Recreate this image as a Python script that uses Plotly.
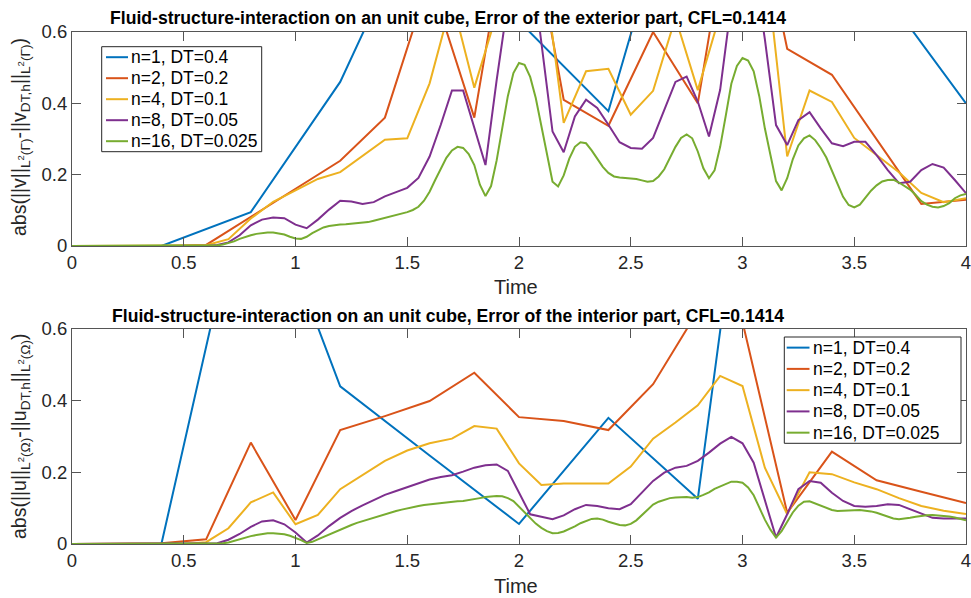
import numpy as np
import plotly.graph_objects as go

# ---------------- data ----------------
labels = ["n=1, DT=0.4", "n=2, DT=0.2", "n=4, DT=0.1", "n=8, DT=0.05", "n=16, DT=0.025"]
dts = [0.4, 0.2, 0.1, 0.05, 0.025]
colors = ["#0072BD", "#D95319", "#EDB120", "#7E2F8E", "#77AC30"]

# exterior part (top)
ext_n1 = [0, 0, 0.095, 0.46, 1.0, 0.63, 0.378, 1.24, 1.3, 0.74, 0.40]
ext_n2 = [0, 0, 0, 0.003, 0.082, 0.162, 0.239, 0.360, 0.75, 0.36, 1.1, 0.41, 0.337,
          0.60, 0.40, 1.15, 0.553, 0.48, 0.299, 0.118, 0.13]
ext_n4 = [0, 0, 0, 0, 0, 0, 0.002, 0.019, 0.077, 0.124, 0.157, 0.188, 0.207, 0.252,
          0.298, 0.302, 0.456, 0.69, 0.444, 0.65, 1.0, 0.83, 0.345, 0.49, 0.497, 0.368,
          0.435, 0.64, 0.437, 0.65, 1.0, 0.82, 0.251, 0.436, 0.404, 0.303, 0.256, 0.207,
          0.149, 0.123, 0.134]
ext_n8 = [0, 0, 0, 0, 0, 0, 0, 0, 0, 0, 0, 0, 0,
          0.003, 0.010, 0.030, 0.058, 0.074, 0.080, 0.078, 0.060, 0.050, 0.074,
          0.102, 0.127, 0.125, 0.118, 0.123, 0.139, 0.151, 0.163, 0.191, 0.251,
          0.340, 0.436, 0.436, 0.331, 0.227, 0.465, 0.69, 0.90, 0.82, 0.57,
          0.321, 0.263, 0.363, 0.410, 0.387, 0.340, 0.291, 0.275, 0.273, 0.303,
          0.382, 0.460, 0.475, 0.405, 0.307, 0.438, 0.68, 0.90, 0.79, 0.58,
          0.339, 0.283, 0.353, 0.375, 0.330, 0.288, 0.280, 0.292, 0.292, 0.255,
          0.213, 0.176, 0.180, 0.213, 0.230, 0.220, 0.185, 0.148]
ext_n16 = [0] * 25 + [
    0.001, 0.002, 0.004, 0.008, 0.013, 0.020, 0.026, 0.030, 0.034, 0.037,
    0.038, 0.038, 0.036, 0.032, 0.026, 0.021, 0.020, 0.026, 0.036, 0.045,
    0.052, 0.056, 0.059, 0.060, 0.061, 0.062, 0.063, 0.064, 0.067, 0.071,
    0.075, 0.078, 0.082, 0.086, 0.090, 0.095, 0.101, 0.110, 0.127, 0.152,
    0.185, 0.218, 0.247, 0.268, 0.278, 0.275, 0.258, 0.227, 0.172, 0.140,
    0.168, 0.240, 0.330, 0.420, 0.485, 0.513, 0.508, 0.474, 0.415, 0.333,
    0.252, 0.180, 0.167, 0.198, 0.245, 0.278, 0.291, 0.288, 0.268, 0.245,
    0.222, 0.205, 0.195, 0.192, 0.191, 0.190, 0.188, 0.184, 0.180, 0.182,
    0.195, 0.215, 0.247, 0.278, 0.303, 0.313, 0.302, 0.265, 0.218, 0.190,
    0.212, 0.278, 0.365, 0.455, 0.505, 0.527, 0.520, 0.490, 0.420, 0.330,
    0.255, 0.182, 0.156, 0.190, 0.243, 0.282, 0.302, 0.310, 0.297, 0.275,
    0.248, 0.210, 0.172, 0.138, 0.115, 0.108, 0.116, 0.135, 0.155, 0.170,
    0.181, 0.185, 0.186, 0.178, 0.168, 0.158, 0.143, 0.126, 0.116, 0.110,
    0.108, 0.112, 0.120, 0.134, 0.142, 0.146]

# interior part (bottom)
int_n1 = [0, 0, 1.1, 0.44, 0.247, 0.056, 0.352, 0.126, 2.0, 1.5, 1.0]
int_n2 = [0, 0, 0.002, 0.013, 0.283, 0.067, 0.318, 0.357, 0.399, 0.478, 0.354,
          0.343, 0.318, 0.446, 0.65, 0.62, 0.087, 0.258, 0.178, 0.146, 0.114]
int_n4 = [0, 0, 0, 0, 0, 0, 0.005, 0.044, 0.116, 0.144, 0.055, 0.081, 0.153, 0.193,
          0.232, 0.261, 0.281, 0.294, 0.329, 0.322, 0.225, 0.165, 0.169, 0.169, 0.169,
          0.216, 0.294, 0.339, 0.387, 0.469, 0.441, 0.213, 0.083, 0.200, 0.195, 0.172,
          0.153, 0.128, 0.106, 0.093, 0.084]
int_n8 = [0, 0, 0, 0, 0, 0, 0, 0, 0, 0, 0, 0, 0,
          0.002, 0.012, 0.028, 0.048, 0.063, 0.066, 0.055, 0.032, 0.004, 0.024,
          0.050, 0.073, 0.092, 0.108, 0.123, 0.137, 0.148, 0.159, 0.171, 0.180,
          0.187, 0.192, 0.202, 0.213, 0.220, 0.222, 0.204, 0.143, 0.083, 0.076,
          0.069, 0.080, 0.097, 0.109, 0.106, 0.100, 0.097, 0.111, 0.143, 0.176,
          0.199, 0.213, 0.218, 0.232, 0.255, 0.280, 0.299, 0.281, 0.227, 0.125,
          0.018, 0.083, 0.153, 0.176, 0.171, 0.143, 0.120, 0.106, 0.104, 0.106,
          0.111, 0.109, 0.097, 0.083, 0.073, 0.071, 0.071, 0.071]
int_n16 = [0] * 25 + [
    0.0005, 0.001, 0.002, 0.004, 0.009, 0.014, 0.018, 0.022, 0.025, 0.028,
    0.030, 0.030, 0.029, 0.027, 0.023, 0.018, 0.011, 0.003, 0.006, 0.013,
    0.020, 0.027, 0.034, 0.041, 0.047, 0.053, 0.059, 0.064, 0.069, 0.073,
    0.078, 0.083, 0.088, 0.092, 0.096, 0.100, 0.103, 0.106, 0.109, 0.111,
    0.113, 0.115, 0.117, 0.118, 0.119, 0.120, 0.122, 0.125, 0.128, 0.131,
    0.133, 0.134, 0.133, 0.128, 0.120, 0.104, 0.088, 0.072, 0.057, 0.045,
    0.036, 0.030, 0.031, 0.035, 0.041, 0.049, 0.058, 0.065, 0.070, 0.071,
    0.068, 0.062, 0.057, 0.053, 0.052, 0.056, 0.066, 0.080, 0.095, 0.110,
    0.118, 0.124, 0.128, 0.130, 0.131, 0.131, 0.129, 0.131, 0.137, 0.144,
    0.154, 0.160, 0.168, 0.174, 0.174, 0.171, 0.158, 0.136, 0.102, 0.068,
    0.040, 0.018, 0.036, 0.064, 0.088, 0.107, 0.118, 0.119, 0.113, 0.106,
    0.100, 0.095, 0.092, 0.092, 0.092, 0.094, 0.095, 0.094, 0.091, 0.087,
    0.081, 0.075, 0.071, 0.069, 0.070, 0.073, 0.076, 0.079, 0.080, 0.081,
    0.080, 0.079, 0.077, 0.074, 0.070, 0.066]

ext_series = [ext_n1, ext_n2, ext_n4, ext_n8, ext_n16]
int_series = [int_n1, int_n2, int_n4, int_n8, int_n16]
for s, dt in zip(ext_series + int_series, dts + dts):
    assert len(s) == int(round(4 / dt)) + 1, (len(s), dt)

x_ticks = [0, 0.5, 1, 1.5, 2, 2.5, 3, 3.5, 4]
x_ticktext = ["0", "0.5", "1", "1.5", "2", "2.5", "3", "3.5", "4"]
y_ticks = [0, 0.2, 0.4, 0.6]
y_ticktext = ["0", "0.2", "0.4", "0.6"]

# ---------------- figure ----------------
W, H = 971, 598
ML, MR, MT, MB = 72, 5, 32, 54
PH = H - MT - MB  # plot area height in px


def py(ypx):
    return (H - MB - ypx) / PH


def px(xpx):
    return (xpx - ML) / (W - ML - MR)


fig = go.Figure()
for s, dt, lab, c in zip(ext_series, dts, labels, colors):
    t = np.arange(len(s)) * dt
    fig.add_trace(go.Scatter(x=t, y=s, mode="lines", name=lab, line=dict(color=c, width=2),
                             xaxis="x", yaxis="y", showlegend=False))
for s, dt, lab, c in zip(int_series, dts, labels, colors):
    t = np.arange(len(s)) * dt
    fig.add_trace(go.Scatter(x=t, y=s, mode="lines", name=lab, line=dict(color=c, width=2),
                             xaxis="x2", yaxis="y2", showlegend=False))

FONT = "Liberation Sans, Arial, Helvetica, sans-serif"
axcol = "#555555"
txtcol = "#262626"
common_x = dict(range=[0, 4], tickvals=x_ticks, ticktext=x_ticktext, showgrid=False,
                zeroline=False, showline=True, linecolor=axcol, linewidth=1, mirror="ticks",
                ticks="inside", ticklen=9, tickcolor=axcol, tickwidth=1,
                ticklabeloverflow="allow", automargin=False,
                tickfont=dict(size=18.5, color=txtcol, family=FONT))
common_y = dict(range=[0, 0.6], tickvals=y_ticks, ticktext=y_ticktext, showgrid=False,
                zeroline=False, showline=True, linecolor=axcol, linewidth=1, mirror="ticks",
                ticks="inside", ticklen=9, tickcolor=axcol, tickwidth=1, automargin=False,
                tickfont=dict(size=18.5, color=txtcol, family=FONT))

top_dom = [py(246), 1.0]
bot_dom = [0.0, py(329)]

fig.update_layout(
    width=W, height=H,
    margin=dict(l=ML, r=MR, t=MT, b=MB, autoexpand=False),
    paper_bgcolor="white", plot_bgcolor="white",
    font=dict(family=FONT, color=txtcol),
    xaxis=dict(domain=[0, 1], anchor="y", **common_x),
    yaxis=dict(domain=top_dom, anchor="x", **common_y),
    xaxis2=dict(domain=[0, 1], anchor="y2", **common_x),
    yaxis2=dict(domain=bot_dom, anchor="x2", **common_y),
    showlegend=False,
)

shapes = []
ann = []


def add_legend(box_l, box_t, box_r, box_b, line_l, line_r, text_l):
    shapes.append(dict(type="rect", xref="paper", yref="paper",
                       x0=px(box_l), x1=px(box_r), y0=py(box_b), y1=py(box_t),
                       fillcolor="white", line=dict(color=txtcol, width=1), layer="above"))
    n = len(labels)
    step = (box_b - box_t) / n
    for i, (lab, c) in enumerate(zip(labels, colors)):
        yc = box_t + step * (i + 0.5)
        shapes.append(dict(type="line", xref="paper", yref="paper",
                           x0=px(line_l), x1=px(line_r), y0=py(yc), y1=py(yc),
                           line=dict(color=c, width=2), layer="above"))
        ann.append(dict(text=lab, x=px(text_l), y=py(yc), xref="paper", yref="paper",
                        showarrow=False, xanchor="left", yanchor="middle",
                        font=dict(size=17.5, color="black", family=FONT)))


add_legend(101.7, 46.7, 261.7, 151.7, 106, 128, 128.5)
add_legend(784.3, 337.0, 961.0, 443.3, 786.7, 809.5, 810.5)

ann.append(dict(text="<b>Fluid-structure-interaction on an unit cube, Error of the exterior part, CFL=0.1414</b>",
                x=px(448), y=py(18), xref="paper", yref="paper", showarrow=False,
                font=dict(size=17.6, color="black", family=FONT), xanchor="center", yanchor="middle"))
ann.append(dict(text="<b>Fluid-structure-interaction on an unit cube, Error of the interior part, CFL=0.1414</b>",
                x=px(448), y=py(316), xref="paper", yref="paper", showarrow=False,
                font=dict(size=17.6, color="black", family=FONT), xanchor="center", yanchor="middle"))
ann.append(dict(text="Time", x=px(516), y=py(287), xref="paper", yref="paper", showarrow=False,
                font=dict(size=20, color=txtcol, family=FONT), xanchor="center", yanchor="middle"))
ann.append(dict(text="Time", x=px(516), y=py(586), xref="paper", yref="paper", showarrow=False,
                font=dict(size=20, color=txtcol, family=FONT), xanchor="center", yanchor="middle"))
ann.append(dict(text="abs(||v||<sub>L<sup>2</sup>(Γ)</sub>-||v<sub>DT,h</sub>||<sub>L<sup>2</sup>(Γ)</sub>)",
                x=px(20), y=py(137), xref="paper", yref="paper", showarrow=False, textangle=-90,
                font=dict(size=19.5, color=txtcol, family=FONT), xanchor="center", yanchor="middle"))
ann.append(dict(text="abs(||u||<sub>L<sup>2</sup>(Ω)</sub>-||u<sub>DT,h</sub>||<sub>L<sup>2</sup>(Ω)</sub>)",
                x=px(20), y=py(436), xref="paper", yref="paper", showarrow=False, textangle=-90,
                font=dict(size=19.5, color=txtcol, family=FONT), xanchor="center", yanchor="middle"))
fig.update_layout(annotations=ann, shapes=shapes)

fig.write_html("out.html")
